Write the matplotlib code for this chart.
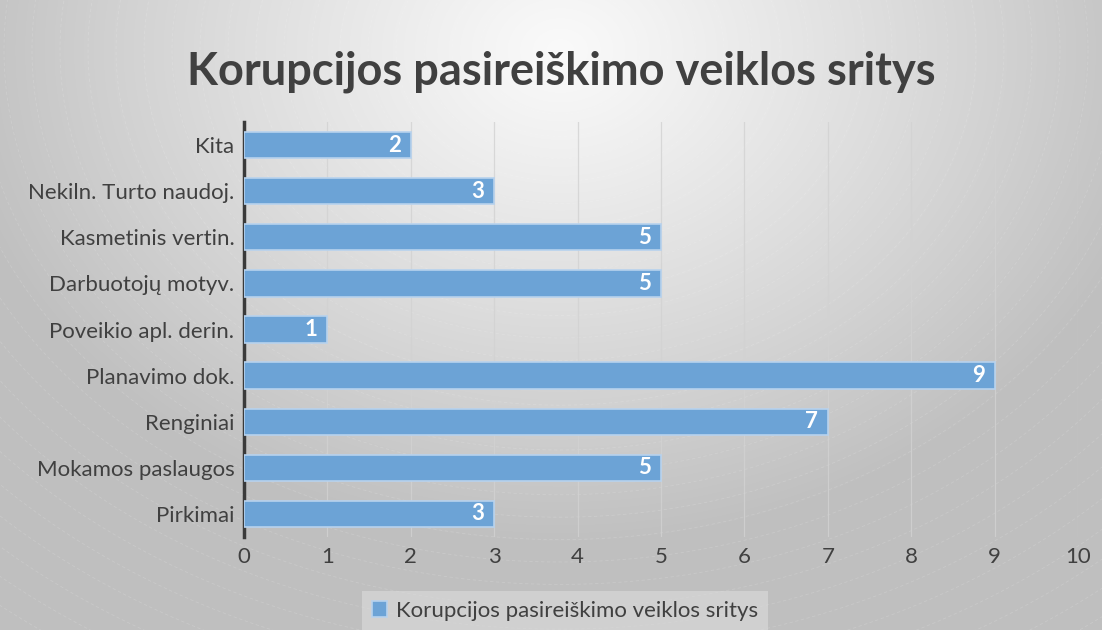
import numpy as np
import matplotlib
matplotlib.use("Agg")
import matplotlib.pyplot as plt

# data (bottom to top as in chart)
categories = ["Pirkimai", "Mokamos paslaugos", "Renginiai", "Planavimo dok.",
              "Poveikio apl. derin.", "Darbuotojų motyv.", "Kasmetinis vertin.",
              "Nekiln. Turto naudoj.", "Kita"]
values = [3, 5, 7, 9, 1, 5, 5, 3, 2]
series_name = "Korupcijos pasireiškimo veiklos sritys"
title = "Korupcijos pasireiškimo veiklos sritys"

plt.rcParams['font.family'] = ['Lato', 'DejaVu Sans']
txt = '#404040'
bar_col = '#6ca3d6'

W, H = 1102, 630
fig = plt.figure(figsize=(W / 100, H / 100), dpi=100)

# radial gradient background
bg = fig.add_axes([0, 0, 1, 1], zorder=-10)
yy, xx = np.mgrid[0:H, 0:W]
r = np.hypot(xx - 560, (yy - 50) * 1.25) / 620
r = np.clip(r, 0, 1)
g = 0.98 - (0.98 - 0.75) * r ** 1.1
bg.imshow(np.dstack([g, g, g]), extent=(0, W, H, 0), aspect='auto', interpolation='bilinear')
th = np.linspace(0, 2 * np.pi, 400)
for rad in np.arange(80, 900, 28):
    bg.plot(560 + rad * np.cos(th), 50 + rad * np.sin(th) / 1.25, color='white',
            lw=0.6, ls=(0, (4, 3)), alpha=0.15)
bg.set_xlim(0, W)
bg.set_ylim(H, 0)
bg.axis('off')

ax = fig.add_axes([244 / W, 1 - 537 / H, (1078 - 244) / W, (537 - 122) / H])
ax.patch.set_alpha(0)
y = np.arange(len(categories))
bars = ax.barh(y, values, height=0.57, color=bar_col, edgecolor='#b7d2ee', linewidth=1.2, zorder=3)
for b, v in zip(bars, values):
    ax.text(v - 0.12, b.get_y() + b.get_height() / 2, str(v), ha='right', va='center',
            color='white', fontsize=16, fontweight='bold', zorder=4)

ax.set_xlim(0, 10)
ax.set_ylim(-0.5, len(categories) - 0.5)
ax.set_xticks(range(0, 11))
ax.set_yticks(y)
ax.set_yticklabels(categories)
ax.grid(axis='x', color='#d2d2d2', lw=0.9, alpha=0.8, zorder=0)
for s in ['top', 'right', 'bottom']:
    ax.spines[s].set_visible(False)
ax.spines['left'].set_color('#3a3a3a')
ax.spines['left'].set_linewidth(2.5)
ax.tick_params(axis='y', length=0, pad=7, labelsize=16, labelcolor=txt)
ax.tick_params(axis='x', length=0, pad=7, labelsize=16, labelcolor=txt)

fig.text(561 / W, 1 - 72 / H, title, ha='center', va='center', fontsize=32.5,
         fontweight='bold', color=txt)

leg = fig.legend([bars[0]], [series_name], loc='center', bbox_to_anchor=(565 / W, 1 - 611 / H),
                 frameon=True, fontsize=16, handlelength=0.7, handleheight=0.7,
                 handletextpad=0.4, borderpad=0.45, fancybox=False)
leg.get_frame().set_facecolor('#dcdcdc')
leg.get_frame().set_alpha(0.6)
leg.get_frame().set_edgecolor('none')
for t in leg.get_texts():
    t.set_color(txt)

fig.savefig("out.png", dpi=100)
